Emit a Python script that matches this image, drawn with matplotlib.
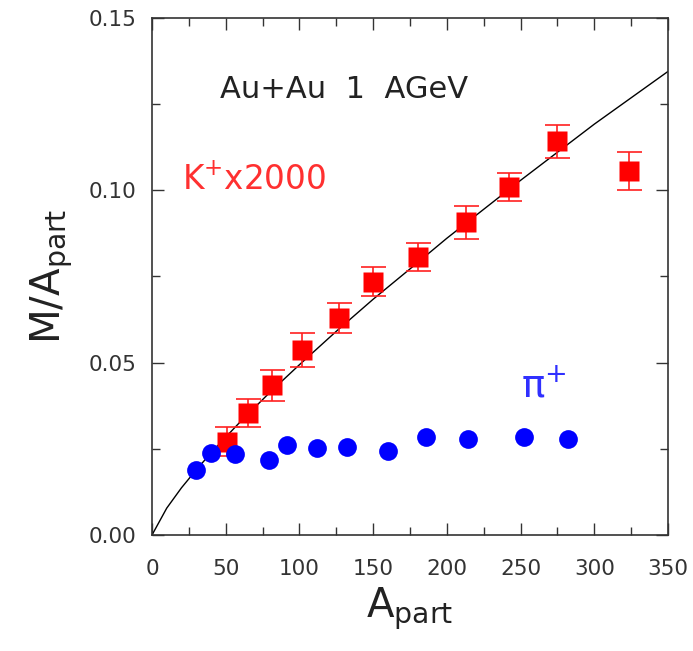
import matplotlib
matplotlib.use("Agg")
import matplotlib.pyplot as plt
from matplotlib.ticker import MultipleLocator, FormatStrFormatter

plt.rcParams['font.family'] = ['DejaVu Sans']

# K+ x2000 data (red squares)
k_apart = [51.0, 65.1, 81.2, 101.5, 127.1, 150.1, 180.7, 212.8, 242.4, 274.9, 323.8]
k_yield = [0.0271, 0.0354, 0.0434, 0.0536, 0.0629, 0.0735, 0.0806, 0.0907, 0.1009, 0.1142, 0.1056]
k_err = [0.0042, 0.0040, 0.0044, 0.0050, 0.0044, 0.0042, 0.0041, 0.0047, 0.0040, 0.0047, 0.0055]

# pi+ data (blue circles)
pi_apart = [29.8, 40.0, 56.3, 79.1, 91.9, 112.1, 132.0, 160.0, 186.1, 214.2, 252.4, 282.3]
pi_yield = [0.0189, 0.0237, 0.0234, 0.0219, 0.0260, 0.0252, 0.0255, 0.0244, 0.0285, 0.0279, 0.0285, 0.0279]

# curve
curve_a = [0, 10, 20, 30, 40, 50, 60, 80, 100, 125, 150, 175, 200, 250, 300, 350]
curve_y = [0.0, 0.0078, 0.0137, 0.0189, 0.0238, 0.0284, 0.0329, 0.0414, 0.0494, 0.0591,
           0.0684, 0.0772, 0.0861, 0.1029, 0.1192, 0.1345]

fig = plt.figure(figsize=(6.93, 6.51), dpi=100)
ax = fig.add_axes([152/693, 116/651, 516/693, 517/651])

ax.plot(curve_a, curve_y, color='black', lw=1.0, zorder=2)
ax.errorbar(k_apart, k_yield, yerr=k_err, fmt='none', ecolor='#ff2020', elinewidth=1.2,
            capsize=9, capthick=1.2, zorder=3)
ax.plot(k_apart, k_yield, 's', color='#ff0000', markersize=13.8, zorder=4, mec='none')
ax.plot(pi_apart, pi_yield, 'o', color='#0000ff', markersize=13.5, zorder=5, mec='none')

ax.set_xlim(0, 350)
ax.set_ylim(0, 0.15)
ax.xaxis.set_major_locator(MultipleLocator(50))
ax.xaxis.set_minor_locator(MultipleLocator(25))
ax.yaxis.set_major_locator(MultipleLocator(0.05))
ax.yaxis.set_minor_locator(MultipleLocator(0.025))
ax.yaxis.set_major_formatter(FormatStrFormatter('%.2f'))

ax.tick_params(which='both', direction='in', top=True, right=True, width=1.0, color='#333333')
ax.tick_params(which='major', length=8.6)
ax.tick_params(which='minor', length=5.8)
ax.tick_params(axis='x', which='major', pad=17, labelsize=15.5, labelcolor='#333333')
ax.tick_params(axis='y', which='major', pad=11, labelsize=15.5, labelcolor='#333333')
for s in ax.spines.values():
    s.set_linewidth(1.2)
    s.set_color('#333333')

ax.set_xlabel(r'$\mathregular{A_{part}}$', fontsize=29, color='#222222', labelpad=5)
ax.set_ylabel(r'$\mathregular{M/A_{part}}$', fontsize=29, color='#222222', labelpad=10)

ax.text(0.132, 0.845, 'Au+Au  1  AGeV', transform=ax.transAxes, fontsize=22,
        color='#222222', va='baseline', ha='left')
ax.text(0.058, 0.667, r'$\mathregular{K^{+}x2000}$', transform=ax.transAxes, fontsize=23.5,
        color='#ff3030', va='baseline', ha='left')
ax.text(0.715, 0.265, r'$\mathregular{\pi^{+}}$', transform=ax.transAxes, fontsize=28,
        color='#3030ff', va='baseline', ha='left')

fig.savefig('out.png', dpi=100)
